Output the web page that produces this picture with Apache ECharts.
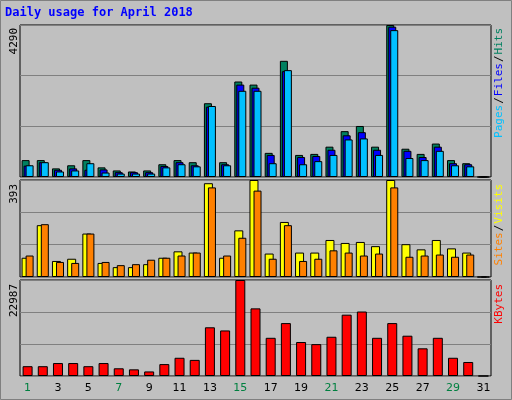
<!DOCTYPE html>
<html><head><meta charset="utf-8">
<script src="https://cdn.jsdelivr.net/npm/echarts@6/dist/echarts.min.js"></script>
<style>html,body{margin:0;padding:0;background:#C0C0C0}#c{width:512px;height:400px}</style>
</head><body><div id="c"></div>
<script>
const days = Array.from({length:31},(_,i)=>String(i+1));
const weekendDays = ['1','7','8','14','15','21','22','28','29'];
const hits  = [477,477,243,331,477,272,185,156,185,360,477,418,2082,418,2695,2608,681,3279,623,652,856,1294,1440,856,4290,798,652,944,477,389,0];
const files = [321,418,204,243,204,214,136,136,136,311,418,331,1985,360,2608,2520,623,2987,564,593,769,1177,1265,769,4242,739,564,856,389,360,0];
const pages = [331,418,156,185,389,126,97,97,97,272,360,301,2004,331,2433,2433,389,3016,360,448,623,1060,1089,623,4145,535,477,739,331,301,0];
const visits= [78,210,65,74,176,57,40,40,52,78,104,99,380,78,189,393,95,223,99,99,150,138,142,125,393,133,112,150,116,99,0];
const sites = [87,214,61,57,176,61,48,52,70,78,87,99,363,87,159,350,74,210,65,74,108,99,87,95,363,82,87,91,82,91,0];
const kbytes= [2349,2349,3104,3104,2349,3104,1846,1594,1091,2853,4363,3859,11662,10907,22987,16193,9145,12669,8138,7635,9397,14683,15438,9145,12669,9648,6628,9145,4363,3356,0];
const maxHits = 4290, maxVisits = 393, maxKB = 22987;

const chart = echarts.init(document.getElementById('c'));
const grids = [
  {left:20,right:21,top:25,height:152},
  {left:20,right:21,top:180,height:97},
  {left:20,right:21,top:280,height:96}
].map(g=>Object.assign(g,{show:true,backgroundColor:'#C0C0C0',borderColor:'#000',borderWidth:1}));
function xa(i,show){return {type:'category',gridIndex:i,data:days,axisTick:{show:false},axisLine:{show:false},
  axisLabel:show?{show:true,margin:7,fontFamily:'DejaVu Sans',fontSize:11,
  color:function(v){return weekendDays.indexOf(v)>=0?'#008040':'#000';}}:{show:false}};}
function ya(i,m){return {type:'value',gridIndex:i,min:0,max:m,interval:m/3,axisLabel:{show:false},axisLine:{show:false},axisTick:{show:false},
  splitLine:{show:true,lineStyle:{color:'#808080',width:1}}};}
const bs = {borderColor:'#000',borderWidth:1};
function bar(name,data,color,xi,w,gap){const s={name,type:'bar',data,xAxisIndex:xi,yAxisIndex:xi,barWidth:w,
  itemStyle:Object.assign({color},bs),animation:false,silent:true}; if(gap!==undefined)s.barGap=gap; return s;}
chart.setOption({
  backgroundColor:'#C0C0C0',
  animation:false,
  grid:grids,
  xAxis:[xa(0,false),xa(1,false),xa(2,true)],
  yAxis:[ya(0,maxHits),ya(1,maxVisits),ya(2,maxKB)],
  series:[
    bar('Hits',hits,'#008060',0,8,'-75%'),
    bar('Files',files,'#0000FF',0,8,'-75%'),
    bar('Pages',pages,'#00C0FF',0,8,'-75%'),
    bar('Visits',visits,'#FFFF00',1,9,'-55%'),
    bar('Sites',sites,'#FF8000',1,8,'-55%'),
    bar('KBytes',kbytes,'#FF0000',2,10)
  ],
  graphic:[
    {type:'rect',shape:{x:0.5,y:0.5,width:511,height:399},style:{fill:'none',stroke:'#808080',lineWidth:1}},
    {type:'text',left:5,top:7,style:{text:'Daily usage for April 2018',fill:'#0000FF',font:'bold 12px "DejaVu Sans Mono"'}},
    {type:'text',x:14,y:28,rotation:Math.PI/2,style:{text:String(maxHits),fill:'#000',font:'11px "DejaVu Sans Mono"',align:'right',verticalAlign:'middle'}},
    {type:'text',x:14,y:184,rotation:Math.PI/2,style:{text:String(maxVisits),fill:'#000',font:'11px "DejaVu Sans Mono"',align:'right',verticalAlign:'middle'}},
    {type:'text',x:14,y:284,rotation:Math.PI/2,style:{text:String(maxKB),fill:'#000',font:'11px "DejaVu Sans Mono"',align:'right',verticalAlign:'middle'}},
    {type:'text',x:499,y:28,rotation:Math.PI/2,style:{text:'{p|Pages}{s|/}{f|Files}{s|/}{h|Hits}',align:'right',verticalAlign:'middle',
      font:'11px "DejaVu Sans Mono"',rich:{p:{fill:'#00C0FF',font:'11px "DejaVu Sans Mono"'},f:{fill:'#0000FF',font:'11px "DejaVu Sans Mono"'},h:{fill:'#008060',font:'11px "DejaVu Sans Mono"'},s:{fill:'#000',font:'11px "DejaVu Sans Mono"',padding:[0,1]}}}},
    {type:'text',x:499,y:184,rotation:Math.PI/2,style:{text:'{a|Sites}{s|/}{b|Visits}',align:'right',verticalAlign:'middle',
      font:'11px "DejaVu Sans Mono"',rich:{a:{fill:'#FF8000',font:'11px "DejaVu Sans Mono"'},b:{fill:'#FFFF00',font:'11px "DejaVu Sans Mono"'},s:{fill:'#000',font:'11px "DejaVu Sans Mono"',padding:[0,1]}}}},
    {type:'text',x:499,y:284,rotation:Math.PI/2,style:{text:'KBytes',fill:'#FF0000',align:'right',verticalAlign:'middle',font:'11px "DejaVu Sans Mono"'}}
  ]
});
</script></body></html>
